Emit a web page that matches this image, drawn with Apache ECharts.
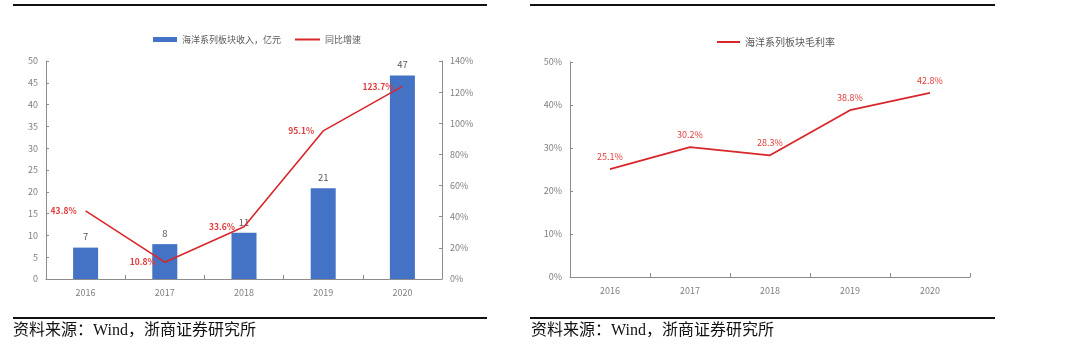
<!DOCTYPE html>
<html><head><meta charset="utf-8">
<script src="https://cdn.jsdelivr.net/npm/echarts@6/dist/echarts.min.js"></script>
<style>html,body{margin:0;padding:0;background:#fff}#c{width:1080px;height:352px}</style>
</head><body><div id="c"></div>
<script>
const years = ['2016','2017','2018','2019','2020'];
const revenue = [7.2, 8.0, 10.6, 20.8, 46.7];
const growth = [43.8, 10.8, 33.6, 95.1, 123.7];
const margin = [25.1, 30.2, 28.3, 38.8, 42.8];
const revName = '海洋系列板块收入，亿元';
const growthName = '同比增速';
const marginName = '海洋系列板块毛利率';
const sourceText = '资料来源：Wind，浙商证券研究所';

const font = '"Noto Sans CJK SC", "Noto Sans", sans-serif';
const axisGrey = '#8c8c8c';
const labelGrey = '#7f7f7f';
const red = '#d9262a';
const blue = '#4472c4';

const chart = echarts.init(document.getElementById('c'));
const xBase = (gi) => ({
  type: 'category', gridIndex: gi, data: years, boundaryGap: true,
  axisLine: {lineStyle: {color: axisGrey, width: 1}},
  axisTick: {show: true, inside: true, length: 4, lineStyle: {color: axisGrey}},
  axisLabel: {color: labelGrey, fontSize: 9, fontFamily: font, margin: 9}
});
const yBase = (gi, extra) => Object.assign({
  type: 'value', gridIndex: gi,
  axisLine: {show: true, lineStyle: {color: axisGrey, width: 1}},
  axisTick: {show: true, inside: true, length: 3, lineStyle: {color: axisGrey}},
  splitLine: {show: false},
  axisLabel: {color: labelGrey, fontSize: 9, fontFamily: font, margin: 8}
}, extra);
const legendText = (fs) => ({color: '#595959', fontSize: fs, fontFamily: font});

chart.setOption({
  animation: false,
  textStyle: {fontFamily: font},
  grid: [
    {left: 46, right: 638, top: 61, bottom: 73},
    {left: 570, right: 110, top: 62, bottom: 75}
  ],
  legend: [
    {data: [revName], left: 148, top: 30, itemWidth: 24, itemHeight: 5, itemGap: 4, icon: 'rect', textStyle: legendText(9)},
    {data: [growthName], left: 290, top: 30, itemWidth: 25, itemHeight: 2, itemGap: 4, icon: 'rect', textStyle: legendText(9)},
    {data: [marginName], left: 712, top: 32, itemWidth: 23, itemHeight: 2, itemGap: 4, icon: 'rect', textStyle: legendText(10)}
  ],
  xAxis: [xBase(0), xBase(1)],
  yAxis: [
    yBase(0, {min: 0, max: 50, interval: 5}),
    yBase(0, {min: 0, max: 140, interval: 20, position: 'right', axisLabel: {color: labelGrey, fontSize: 9, fontFamily: font, margin: 8, formatter: '{value}%'}}),
    yBase(1, {min: 0, max: 50, interval: 10, axisLabel: {color: labelGrey, fontSize: 9, fontFamily: font, margin: 8, formatter: '{value}%'}})
  ],
  series: [
    {name: revName, type: 'bar', xAxisIndex: 0, yAxisIndex: 0, data: revenue, barWidth: 25,
     itemStyle: {color: blue},
     label: {show: true, position: 'top', distance: 6, color: '#595959', fontSize: 9.5, fontFamily: font,
       formatter: p => Math.round(p.value)}},
    {name: growthName, type: 'line', xAxisIndex: 0, yAxisIndex: 1, data: growth,
     symbol: 'circle', symbolSize: 0.01, showSymbol: true,
     lineStyle: {color: red, width: 1.6}, itemStyle: {color: red},
     label: {show: true, position: 'left', distance: 9, color: '#e03c3c', fontSize: 8.5, fontWeight: 'bold', fontFamily: font,
       formatter: p => p.value.toFixed(1) + '%'}},
    {name: marginName, type: 'line', xAxisIndex: 1, yAxisIndex: 2, data: margin,
     symbol: 'circle', symbolSize: 0.01, showSymbol: true,
     lineStyle: {color: red, width: 1.8}, itemStyle: {color: red},
     label: {show: true, position: 'top', distance: 8, color: '#e03c3c', fontSize: 9, fontFamily: font,
       formatter: p => p.value.toFixed(1) + '%'}}
  ],
  graphic: [
    {type: 'rect', shape: {x: 13, y: 4, width: 474, height: 2}, style: {fill: '#111'}},
    {type: 'rect', shape: {x: 530, y: 4, width: 465, height: 2}, style: {fill: '#111'}},
    {type: 'rect', shape: {x: 13, y: 317, width: 474, height: 2}, style: {fill: '#111'}},
    {type: 'rect', shape: {x: 530, y: 317, width: 465, height: 2}, style: {fill: '#111'}},
    {type: 'text', left: 13, top: 323, style: {text: sourceText, fill: '#111', fontSize: 16, fontFamily: '"Liberation Serif", "Noto Sans CJK SC", serif'}},
    {type: 'text', left: 531, top: 323, style: {text: sourceText, fill: '#111', fontSize: 16, fontFamily: '"Liberation Serif", "Noto Sans CJK SC", serif'}}
  ]
});
</script></body></html>
